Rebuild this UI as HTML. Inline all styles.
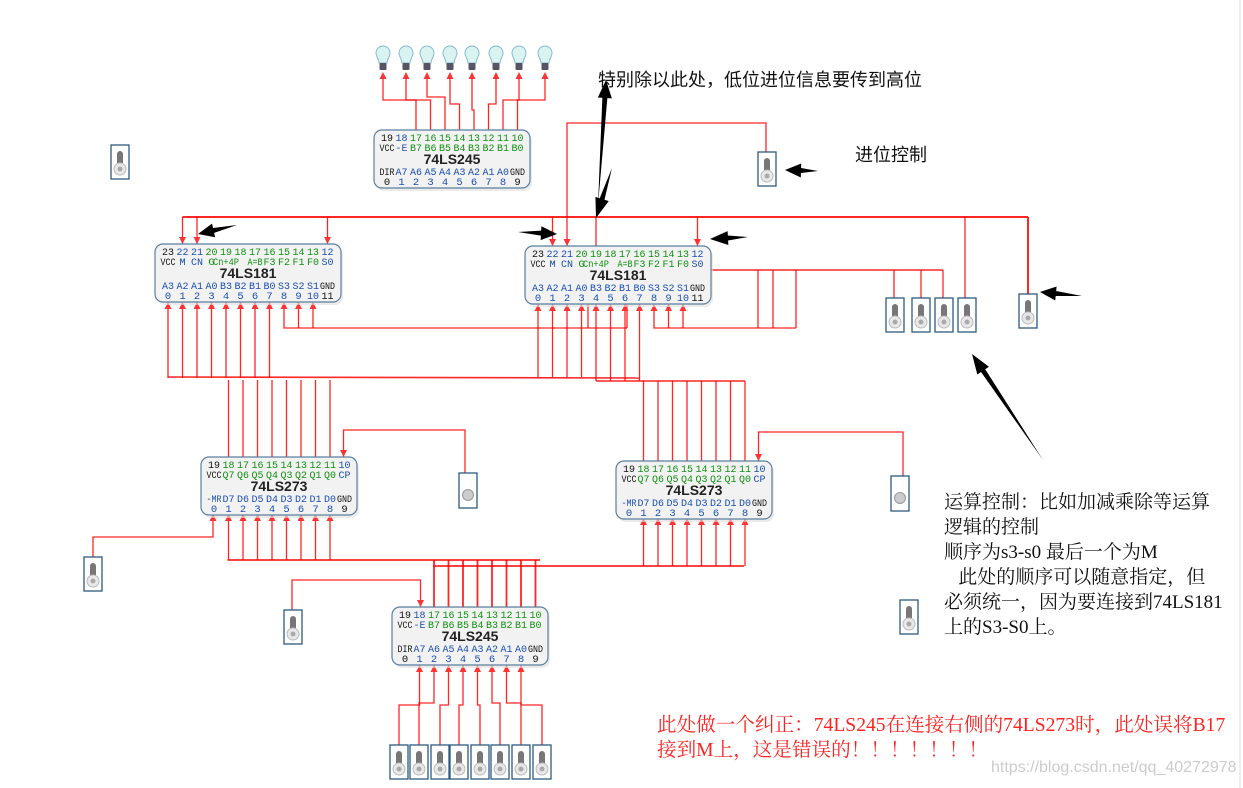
<!DOCTYPE html>
<html><head><meta charset="utf-8">
<style>
html,body{margin:0;padding:0;background:#fff;}
body{width:1243px;height:788px;overflow:hidden;position:relative;font-family:"Liberation Sans","Noto Sans CJK SC",sans-serif;}
svg{position:absolute;left:0;top:0;}
.t{position:absolute;white-space:nowrap;color:#111;}
.sf{font-family:"Liberation Serif","Noto Serif CJK SC",serif;}
</style></head><body>
<svg id="s" width="1243" height="788" xmlns="http://www.w3.org/2000/svg"></svg>
<div class="t" style="left:598px;top:66px;font-size:18px;">特别除以此处，低位进位信息要传到高位</div>
<div class="t" style="left:855px;top:141px;font-size:18px;">进位控制</div>
<div class="t sf" style="left:944px;top:490px;font-size:19px;line-height:25px;">运算控制：比如加减乘除等运算<br>逻辑的控制<br>顺序为s3-s0 最后一个为M<br>&nbsp;&nbsp;&nbsp;此处的顺序可以随意指定，但<br>必须统一，因为要连接到74LS181<br>上的S3-S0上。</div>
<div class="t sf" style="left:657px;top:713px;font-size:19.6px;line-height:25px;color:#f22;">此处做一个纠正：74LS245在连接右侧的74LS273时，此处误将B17<br>接到M上，这是错误的！！！！！！！</div>
<div class="t" style="left:991px;top:759px;font-size:16px;color:#ccc;">https://blog.csdn.net/qq_40272978</div>
<script>
var o='';
function W(p,sw){o+='<polyline points="'+p+'" fill="none" stroke="#f00" stroke-width="'+(sw||1.3)+'" stroke-opacity="0.85"/>';}
function A(x,y,d){o+='<polygon points="'+x+','+y+' '+(x-3.5)+','+(y-7*d)+' '+(x+3.5)+','+(y-7*d)+'" fill="#f33"/>';}
var C={bl:'#111',b:'#1a4fb0',g:'#119011'};
function tx(x,y,s,c,sz,extra){o+='<text x="'+x+'" y="'+y+'" font-size="'+sz+'" text-anchor="middle" font-family="Liberation Mono" fill="'+c+'" '+(extra||'')+'>'+s+'</text>';}
function chip(x,y,w,n,tn,tnm,tc,title,bn,bnm,bc){
 o+='<rect x="'+(x+2)+'" y="'+(y+3)+'" width="'+w+'" height="58" rx="8" fill="#ddd" opacity="0.6"/>';
 o+='<rect x="'+x+'" y="'+y+'" width="'+w+'" height="58" rx="8" fill="#f2f2f2" stroke="#5a7fa0" stroke-width="1.2"/>';
 for(var i=0;i<n;i++){var px=x+13+i*14.5;
  var fit=function(s){return s.length>=2?'textLength="'+(s.length>3?26:s.length==3?15:12)+'" lengthAdjust="spacingAndGlyphs"':'';};
  tx(px,y+11,tn[i],C[tc[i]],10.5,fit(tn[i]));
  tx(px,y+21,tnm[i],C[tc[i]],10.5,fit(tnm[i]));
  tx(px,y+45,bnm[i],C[bc[i]],10.5,fit(bnm[i]));
  tx(px,y+55,bn[i],C[bc[i]],10.5,fit(bn[i]));}
 o+='<text x="'+(x+w/2)+'" y="'+(y+34)+'" font-size="14" font-weight="bold" text-anchor="middle" font-family="Liberation Sans" fill="#222">'+title+'</text>';
}
function sw(x,y){o+='<rect x="'+x+'" y="'+y+'" width="18" height="34" fill="#fff" stroke="#2d5a7e" stroke-width="1.3"/>'+
 '<rect x="'+(x+6)+'" y="'+(y+6)+'" width="6" height="16" rx="3" fill="#777"/>'+
 '<circle cx="'+(x+9)+'" cy="'+(y+24)+'" r="6" fill="#e8e8e8" stroke="#bbb"/><circle cx="'+(x+9)+'" cy="'+(y+24)+'" r="2.5" fill="#aaa"/>';}
function btn(x,y){o+='<rect x="'+x+'" y="'+y+'" width="18" height="35" fill="#fff" stroke="#2d5a7e" stroke-width="1.3"/>'+
 '<circle cx="'+(x+9)+'" cy="'+(y+22)+'" r="5.5" fill="#ccc" stroke="#999"/>';}
function bulb(x){o+='<path d="M'+(x-7)+',53 a7,7 0 1,1 14,0 c0,4 -3,6 -3,10 h-8 c0,-4 -3,-6 -3,-10z" fill="#d8f3f0" stroke="#8bc" stroke-width="1"/>'+
 '<rect x="'+(x-3.5)+'" y="63" width="7" height="7" rx="1" fill="#556"/>';}
function P(x0,i){return x0+13+i*14.5;}
var bx=[383,406,427,450,472,496,519,545],by=[100,100,97,104,110,104,100,100];
for(var i=0;i<8;i++){var px=P(374,i+2);W(bx[i]+',78 '+bx[i]+','+by[i]+' '+px+','+by[i]+' '+px+',130');A(bx[i],72,-1);}
W('182.5,217 1028,217',2);W('182.5,217 182.5,244');A(182.5,244,1);
W('197,217 197,244');A(197,244,1);W('327.5,217 327.5,244');A(327.5,244,1);
W('552.5,217 552.5,246');A(552.5,246,1);W('697.5,217 697.5,246');A(697.5,246,1);
W('596,217 596,246');W('567,246 567,123 766,123 766,152');A(567,246,1);
W('965,217 965,298');W('1028,217 1028,295',2);
W('588,270 943,270',1.6);W('654,304 654,328 796,328');W('668.5,304 668.5,328');W('683,304 683,328');
A(654,304,-1);A(668.5,304,-1);A(683,304,-1);
W('758,270 758,328');W('773,270 773,328');W('796,270 796,328');
W('894,270 894,298');W('921,270 921,298');W('943,270 943,298');
W('284,304 284,328 627,328');W('298.5,302 298.5,328');W('313,302 313,328');
A(284,302,-1);A(298.5,302,-1);A(313,302,-1);W('588,304 588,328');W('627,304 627,328');
for(var i=0;i<8;i++){var px=P(155,i);W(px+',302 '+px+',378');A(px,302,-1);}
W('168,377 640,378',1.6);
for(var i=0;i<8;i++){var px=P(525,i);W(px+',304 '+px+','+(i<4?377:381));A(px,304,-1);}
for(var i=1;i<9;i++){var px=P(201,i);W(px+',380 '+px+',457');}
W('596,381 745,381',1.6);
for(var i=1;i<9;i++){var px=P(616,i);W(px+',381 '+px+',461');}
for(var i=1;i<9;i++){var px=P(201,i);W(px+',514 '+px+',560');A(px,514,-1);}
W('227.5,560 540,560',1.8);
for(var i=1;i<9;i++){var px=P(616,i);W(px+',518 '+px+',566');A(px,518,-1);}
W('433,566 744,566',1.8);
for(var i=2;i<10;i++){var px=P(392,i);W(px+',560 '+px+',607',1.8);}
W('213,514 213,537 93,537 93,557');A(213,514,-1);
W('343.5,457 343.5,430 465,430 465,473');A(343.5,457,1);
W('758.5,461 758.5,432 903,432 903,476');A(758.5,461,1);
W('420.5,607 420.5,580 292,580 292,610');A(420.5,607,1);
var sx=[399,419,440,459,480,500,521,542],jy=[705,703,705,705,705,703,703,705];
for(var i=0;i<8;i++){var px=P(392,i+1);W(sx[i]+',745 '+sx[i]+','+jy[i]+' '+px+','+jy[i]+' '+px+',665');A(px,665,-1);}
for(var i=0;i<8;i++)bulb(bx[i]);
var c245t=['VCC','-E','B7','B6','B5','B4','B3','B2','B1','B0'],c245b=['DIR','A7','A6','A5','A4','A3','A2','A1','A0','GND'];
var t245c=['bl','b','g','g','g','g','g','g','g','g'],b245c=['bl','b','b','b','b','b','b','b','b','bl'];
var n1=['19','18','17','16','15','14','13','12','11','10'],n0=['0','1','2','3','4','5','6','7','8','9'];
chip(374,130,156,10,n1,c245t,t245c,'74LS245',n0,c245b,b245c);
chip(392,607,156,10,n1,c245t,t245c,'74LS245',n0,c245b,b245c);
var b181=['A3','A2','A1','A0','B3','B2','B1','B0','S3','S2','S1','GND'];
var tn181=['23','22','21','20','19','18','17','16','15','14','13','12'];
var tc181=['bl','b','b','g','g','g','g','g','g','g','g','b'],bc181=['b','b','b','b','b','b','b','b','b','b','b','bl'];
var bn181=['0','1','2','3','4','5','6','7','8','9','10','11'];
var nm=['VCC','M','CN','G','Cn+4P','','A=B','F3','F2','F1','F0','S0'];
chip(155,244,186,12,tn181,nm,tc181,'74LS181',bn181,b181,bc181);
chip(525,246,186,12,tn181,nm,tc181,'74LS181',bn181,b181,bc181);
var t273=['VCC','Q7','Q6','Q5','Q4','Q3','Q2','Q1','Q0','CP'],b273=['-MR','D7','D6','D5','D4','D3','D2','D1','D0','GND'];
var tc273=['bl','g','g','g','g','g','g','g','g','b'],bc273=['b','b','b','b','b','b','b','b','b','bl'];
chip(201,457,156,10,n1,t273,tc273,'74LS273',n0,b273,bc273);
chip(616,461,156,10,n1,t273,tc273,'74LS273',n0,b273,bc273);
sw(111,145);sw(758,152);sw(84,557);sw(284,610);sw(900,600);
sw(886,298);sw(912,298);sw(935,298);sw(958,298);sw(1019,294);
for(var i=0;i<8;i++)sw(sx[i]-9,745);
btn(459,473);btn(891,476);
function BA(x1,y1,x2,y2,h,w){w=w||8;var dx=x2-x1,dy=y2-y1,L=Math.hypot(dx,dy),ux=dx/L,uy=dy/L,nx=-uy,ny=ux;
 var bxp=x2-ux*h,byp=y2-uy*h;
 o+='<polygon points="'+x1+','+y1+' '+(bxp+nx*2.5)+','+(byp+ny*2.5)+' '+(bxp+nx*w)+','+(byp+ny*w)+' '+x2+','+y2+' '+(bxp-nx*w)+','+(byp-ny*w)+' '+(bxp-nx*2.5)+','+(byp-ny*2.5)+'" fill="#000"/>';}
BA(818,171,785,170,16,7);BA(237,225,198,234,16,7);BA(518,232,557,234,16,7);BA(748,237,710,239,18,7);
BA(1082,296,1040,292,16,7);BA(1043,460,972,354,20,7);
BA(598,205,606,80,18,7);BA(612,168,596,218,20,7);
document.getElementById('s').innerHTML=o+'<line x1="1240" y1="0" x2="1240" y2="788" stroke="#ddd"/>';
</script>
</body></html>
